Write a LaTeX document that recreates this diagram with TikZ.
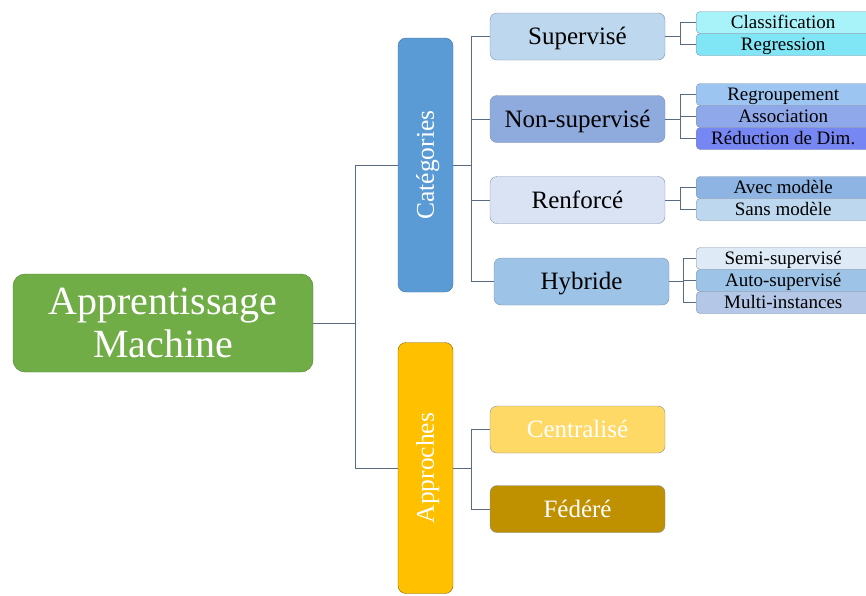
\documentclass[tikz,border=0pt]{standalone}
\usepackage{fontspec}
\setmainfont{Liberation Serif}
\usepackage{xcolor}

\definecolor{rootgreen}{HTML}{70AD47}
\definecolor{rootline}{HTML}{507E32}
\definecolor{catblue}{HTML}{5B9BD5}
\definecolor{catline}{HTML}{41719C}
\definecolor{appgold}{HTML}{FFC000}
\definecolor{appline}{HTML}{7F6000}
\definecolor{boxline}{HTML}{7F8FA9}
\definecolor{linkgray}{HTML}{5A6A80}

\begin{document}
\begin{tikzpicture}[x=1pt, y=-1pt,
	root/.style={draw=rootline, fill=rootgreen, rounded corners=12pt, text=white, align=center, minimum width=300pt, minimum height=98pt, inner sep=0pt, font=\fontsize{40}{43}\selectfont},
	group/.style={draw, rotate=90, rounded corners=8pt, text=white, minimum height=55pt, inner sep=0pt, text height=16.8pt, text depth=0pt, font=\fontsize{25.5}{28}\selectfont},
	branch/.style={draw=boxline, rounded corners=7pt, minimum width=175pt, minimum height=47pt, inner sep=0pt, text height=16.5pt, text depth=0pt, font=\fontsize{25}{28}\selectfont},
	leaf/.style={draw=boxline, rounded corners=4pt, minimum width=174pt, minimum height=22pt, inner sep=0pt, anchor=west, text height=12.5pt, text depth=0pt, font=\fontsize{19}{21}\selectfont},
	link/.style={draw=linkgray, line width=0.9pt}]
	\clip (0,0) rectangle (866,595);

	\node[root] (ml) at (163, 323) {Apprentissage\\Machine};

	% rotated boxes: south is the right side
	\node[group, draw=catline, fill=catblue, minimum width=254pt] (cat) at (425.5, 165) {Catégories};
	\node[group, draw=appline, fill=appgold, minimum width=251pt] (app) at (425.5, 468) {Approches};

	\node[branch, fill={rgb,255:red,189;green,215;blue,238}] (sup) at (577.5, 36.5) {Supervisé};
	\node[branch, fill={rgb,255:red,143;green,170;blue,220}] (nsup) at (577.5, 119) {Non-supervisé};
	\node[branch, fill={rgb,255:red,218;green,227;blue,243}] (renf) at (577.5, 200) {Renforcé};
	\node[branch, fill={rgb,255:red,157;green,195;blue,230}] (hyb) at (581.5, 281.5) {Hybride};
	\node[branch, fill={rgb,255:red,255;green,217;blue,102}, text=white] (cent) at (577.5, 429.5) {Centralisé};
	\node[branch, fill={rgb,255:red,191;green,144;blue,0}, text=white] (fed) at (577.5, 509) {Fédéré};

	\node[leaf, fill={rgb,255:red,168;green,242;blue,250}] (clas) at (696, 22.5) {Classification};
	\node[leaf, fill={rgb,255:red,128;green,230;blue,245}] (regr) at (696, 44.5) {Regression};
	\node[leaf, fill={rgb,255:red,157;green,197;blue,242}] (regp) at (696, 94.5) {Regroupement};
	\node[leaf, fill={rgb,255:red,143;green,168;blue,234}] (asso) at (696, 116.5) {Association};
	\node[leaf, fill={rgb,255:red,118;green,134;blue,242}] (redu) at (696, 138.5) {Réduction de Dim.};
	\node[leaf, fill={rgb,255:red,141;green,180;blue,226}] (avec) at (696, 187.5) {Avec modèle};
	\node[leaf, fill={rgb,255:red,189;green,215;blue,238}] (sans) at (696, 209.5) {Sans modèle};
	\node[leaf, fill={rgb,255:red,222;green,235;blue,247}] (semi) at (696, 258.5) {Semi-supervisé};
	\node[leaf, fill={rgb,255:red,157;green,195;blue,230}] (auto) at (696, 280.5) {Auto-supervisé};
	\node[leaf, fill={rgb,255:red,180;green,199;blue,231}] (mult) at (696, 302.5) {Multi-instances};

	% root fork
	\draw[link] (ml.east) -- ++(42,0) |- (cat.north);
	\draw[link] (ml.east) -- ++(42,0) |- (app.north);

	% categories fork
	\draw[link] (cat.south) -- ++(18,0) |- (sup.west);
	\draw[link] (cat.south) -- ++(18,0) |- (nsup.west);
	\draw[link] (cat.south) -- ++(18,0) |- (renf.west);
	\draw[link] (cat.south) -- ++(18,0) |- (hyb.west);

	% approaches fork
	\draw[link] (app.south) -- ++(18,0) |- (cent.west);
	\draw[link] (app.south) -- ++(18,0) |- (fed.west);

	% leaves
	\draw[link] (sup.east) -- ++(15,0) |- (clas.west);
	\draw[link] (sup.east) -- ++(15,0) |- (regr.west);
	\draw[link] (nsup.east) -- ++(15,0) |- (regp.west);
	\draw[link] (nsup.east) -- ++(15,0) |- (asso.west);
	\draw[link] (nsup.east) -- ++(15,0) |- (redu.west);
	\draw[link] (renf.east) -- ++(15,0) |- (avec.west);
	\draw[link] (renf.east) -- ++(15,0) |- (sans.west);
	\draw[link] (hyb.east) -- ++(14,0) |- (semi.west);
	\draw[link] (hyb.east) -- ++(14,0) |- (auto.west);
	\draw[link] (hyb.east) -- ++(14,0) |- (mult.west);
\end{tikzpicture}
\end{document}
